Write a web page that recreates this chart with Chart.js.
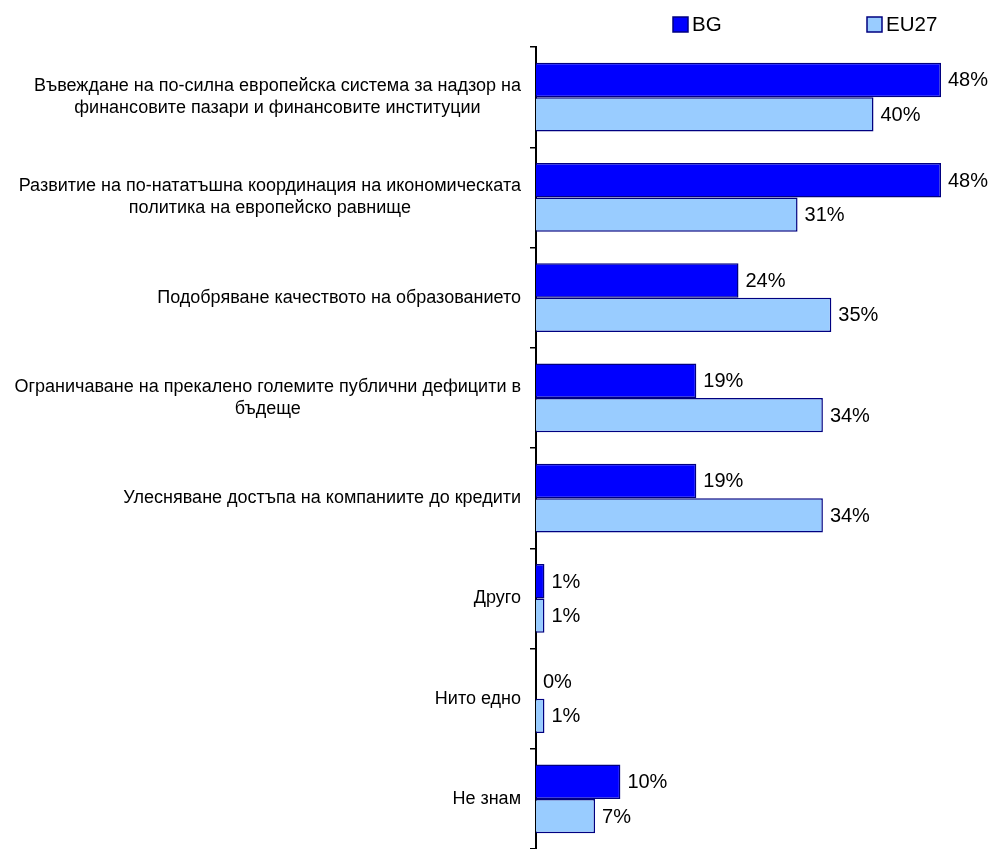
<!DOCTYPE html>
<html>
<head>
<meta charset="utf-8">
<script src="https://cdn.jsdelivr.net/npm/chart.js@4/dist/chart.umd.min.js"></script>
<style>
  html, body { margin: 0; padding: 0; background: #fff; }
  #wrap { width: 992px; height: 849px; }
</style>
</head>
<body>
<div id="wrap"><canvas id="myChart"></canvas></div>
<script>
// categories (each line of the label is a separate string)
var categories = [
    ['Въвеждане на по-силна европейска система за надзор на', 'финансовите пазари и финансовите институции'],
    ['Развитие на по-нататъшна координация на икономическата', 'политика на европейско равнище'],
    ['Подобряване качеството на образованието'],
    ['Ограничаване на прекалено големите публични дефицити в', 'бъдеще'],
    ['Улесняване достъпа на компаниите до кредити'],
    ['Друго'],
    ['Нито едно'],
    ['Не знам']
];
var seriesNames = ['BG', 'EU27'];
var bgValues = [48, 48, 24, 19, 19, 1, 0, 10];
var eu27Values = [40, 31, 35, 34, 34, 1, 1, 7];

var FONT = '"Liberation Sans", Arial, sans-serif';

var drawTexts = {
    id: 'drawTexts',
    afterDatasetsDraw: function(chart) {
        var ctx = chart.ctx;
        var yScale = chart.scales.y;
        var area = chart.chartArea;
        ctx.save();
        ctx.fillStyle = '#000';

        // category labels, lines centered with each other, block right aligned
        ctx.font = '18px ' + FONT;
        ctx.textBaseline = 'middle';
        ctx.textAlign = 'center';
        var lineH = 22;
        categories.forEach(function(lines, i) {
            var yc = yScale.getPixelForValue(i);
            var maxW = 0;
            lines.forEach(function(l) { maxW = Math.max(maxW, ctx.measureText(l).width); });
            var cx = area.left - 15 - maxW / 2;
            var y0 = yc - (lines.length - 1) * lineH / 2;
            lines.forEach(function(l, k) { ctx.fillText(l, cx, y0 + k * lineH); });
        });

        // value labels
        ctx.font = '20px ' + FONT;
        ctx.textAlign = 'left';
        chart.data.datasets.forEach(function(ds, di) {
            var meta = chart.getDatasetMeta(di);
            meta.data.forEach(function(bar, i) {
                ctx.fillText(ds.data[i] + '%', bar.x + 7, bar.y + 1);
            });
        });

        // legend
        var legendX = [673, 867];
        ctx.font = '20.5px ' + FONT;
        chart.data.datasets.forEach(function(ds, di) {
            var x = legendX[di];
            ctx.fillStyle = ds.backgroundColor;
            ctx.fillRect(x, 17, 15, 15);
            ctx.strokeStyle = ds.borderColor;
            ctx.lineWidth = 1.5;
            ctx.strokeRect(x, 17, 15, 15);
            ctx.fillStyle = '#000';
            ctx.fillText(ds.label, x + 19, 25);
        });
        ctx.restore();
    }
};

var ctx = document.getElementById('myChart').getContext('2d');
var chart = new Chart(ctx, {
    type: 'bar',
    data: {
        labels: categories,
        datasets: [{
            label: seriesNames[0],
            data: bgValues,
            backgroundColor: '#0000FF',
            borderColor: '#000080',
            borderWidth: 1.5
        }, {
            label: seriesNames[1],
            data: eu27Values,
            backgroundColor: '#99CCFF',
            borderColor: '#000080',
            borderWidth: 1.5
        }]
    },
    options: {
        indexAxis: 'y',
        responsive: true,
        maintainAspectRatio: false,
        animation: false,
        datasets: {
            bar: { barPercentage: 1, categoryPercentage: 0.685 }
        },
        layout: {
            padding: { left: 0, right: 51, top: 47, bottom: -4 }
        },
        plugins: {
            legend: { display: false },
            tooltip: { enabled: false }
        },
        scales: {
            x: { display: false, min: 0, max: 48 },
            y: {
                afterFit: function(scale) { scale.width = 536; },
                ticks: { display: false },
                grid: {
                    display: true,
                    drawOnChartArea: false,
                    offset: true,
                    tickLength: 6,
                    color: '#000',
                    lineWidth: 1.5
                },
                border: { display: true, color: '#000', width: 2 }
            }
        }
    },
    plugins: [drawTexts]
});
</script>
</body>
</html>
